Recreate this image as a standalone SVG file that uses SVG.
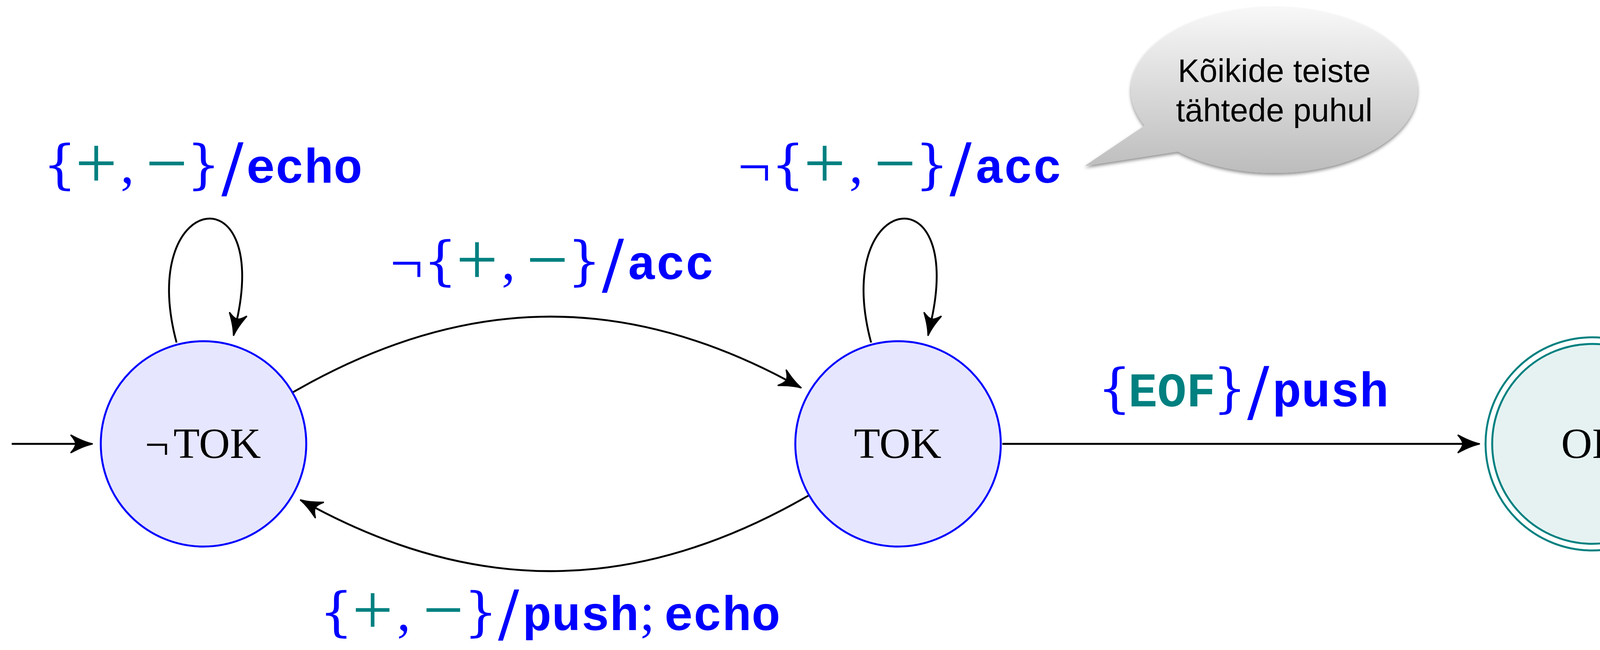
<svg xmlns="http://www.w3.org/2000/svg" width="4333" height="1665" viewBox="0 0 4333 1665">
<defs>
<style>
.edge{fill:none;stroke:#000;stroke-width:4.8;marker-end:url(#arr);}
.state{fill:#E6E6FF;stroke:#0000FF;stroke-width:5;}
.accin{fill:#E6F2F2;stroke:#008080;stroke-width:5;}
.accout{fill:#FFFFFF;stroke:#008080;stroke-width:5;}
.nl{font-family:"Liberation Serif","DejaVu Serif",serif;font-size:110px;fill:#000;text-anchor:middle;}
.lbl{text-anchor:middle;}
.br{font-family:"DejaVu Serif",serif;font-size:135px;}
.rm{font-family:"Liberation Serif",serif;font-size:190px;}
.rm2{font-family:"Liberation Serif",serif;font-size:185px;}
.cm{font-family:"Liberation Serif",serif;font-size:140px;}
.sl{font-family:"DejaVu Serif",serif;font-size:168px;}
.sl2{font-family:"DejaVu Serif",serif;font-size:160px;}
.ng{font-family:"Liberation Serif",serif;font-size:150px;}
.tt{font-family:"Liberation Mono","DejaVu Sans Mono",monospace;font-weight:bold;font-size:124px;}
.b{fill:#0000FF;}
.t{fill:#008080;}
.co{font-family:"Liberation Sans",Arial,sans-serif;font-size:83px;fill:#000;text-anchor:middle;}
</style>
<marker id="arr" viewBox="-70 -35 80 70" markerWidth="80" markerHeight="70" refX="-41" refY="0" orient="auto" markerUnits="userSpaceOnUse">
<path d="M0,0 C-14,-3 -33,-10.5 -54,-22 C-46,-13 -42,-6 -42,0 C-42,6 -46,13 -54,22 C-33,10.5 -14,3 0,0 Z" fill="#000" stroke="#000" stroke-width="4" stroke-linejoin="round"/>
</marker>
<linearGradient id="bub" gradientUnits="userSpaceOnUse" x1="0" y1="18" x2="0" y2="444">
<stop offset="0" stop-color="#F8F8F8"/>
<stop offset="1" stop-color="#BCBCBC"/>
</linearGradient>
<filter id="sh" x="-10%" y="-10%" width="120%" height="130%">
<feDropShadow dx="0" dy="5" stdDeviation="4" flood-color="#000" flood-opacity="0.45"/>
</filter>
</defs>

<g id="edges">
<path id="e-init" class="edge" d="M30,1137 L195,1137"/>
<path id="e-loop-notok" class="edge" d="M452,877.5 C349.8,496.2 690,436 606.7,818.6"/>
<path id="e-loop-tok" class="edge" d="M2230,877.5 C2127.8,496.2 2468,436 2384.7,818.6"/>
<path id="e-notok-tok" class="edge" d="M750.5,1004.5 C1179,757.2 1587.3,746.9 2014.2,973.8"/>
<path id="e-tok-notok" class="edge" d="M2069.5,1269.5 C1641,1516.8 1232.7,1527.1 805.8,1300.2"/>
<path id="e-tok-ok" class="edge" d="M2566,1137 L3746,1137"/>
</g>

<g id="edge-labels">
<text id="l-loop-notok" class="lbl">
<tspan class="br b" x="153" y="468">{</tspan><tspan class="rm t" x="246.4" y="482">+</tspan><tspan class="cm b" x="326" y="468">,</tspan><tspan class="rm t" x="426.6" y="482">−</tspan><tspan class="br b" x="521" y="468">}</tspan><tspan class="sl b" x="595" y="487">/</tspan><tspan class="tt b" x="779" y="468">echo</tspan>
</text>
<text id="l-notok-tok" class="lbl">
<tspan class="ng b" x="1041" y="724">¬</tspan><tspan class="br b" x="1127" y="715">{</tspan><tspan class="rm t" x="1221" y="729">+</tspan><tspan class="cm b" x="1301.6" y="715">,</tspan><tspan class="rm t" x="1401" y="729">−</tspan><tspan class="br b" x="1495.7" y="715">}</tspan><tspan class="sl b" x="1569" y="734">/</tspan><tspan class="tt b" x="1717" y="715">acc</tspan>
</text>
<text id="l-loop-tok" class="lbl">
<tspan class="ng b" x="1931" y="477">¬</tspan><tspan class="br b" x="2017" y="468">{</tspan><tspan class="rm t" x="2111" y="482">+</tspan><tspan class="cm b" x="2191.6" y="468">,</tspan><tspan class="rm t" x="2291" y="482">−</tspan><tspan class="br b" x="2385.7" y="468">}</tspan><tspan class="sl b" x="2459" y="487">/</tspan><tspan class="tt b" x="2607" y="468">acc</tspan>
</text>
<text id="l-tok-ok" class="lbl">
<tspan class="br b" x="2853" y="1041">{</tspan><tspan class="tt t" x="3000" y="1041">EOF</tspan><tspan class="br b" x="3148" y="1041">}</tspan><tspan class="sl b" x="3221" y="1060">/</tspan><tspan class="tt b" x="3406" y="1041">push</tspan>
</text>
<text id="l-tok-notok" class="lbl">
<tspan class="br b" x="860.7" y="1614">{</tspan><tspan class="rm2 t" x="954" y="1624">+</tspan><tspan class="cm b" x="1033.7" y="1614">,</tspan><tspan class="rm2 t" x="1135" y="1624">−</tspan><tspan class="br b" x="1230.6" y="1614">}</tspan><tspan class="sl2 b" x="1302" y="1626">/</tspan><tspan class="tt b" x="1486.7" y="1614">push</tspan><tspan class="cm b" x="1657" y="1614">;</tspan><tspan class="tt b" x="1849" y="1614">echo</tspan>
</text>
</g>

<g id="node-notok">
<circle class="state" cx="521" cy="1137" r="263"/>
<text class="nl"><tspan x="402" y="1176">¬</tspan><tspan x="556" y="1173">TOK</tspan></text>
</g>
<g id="node-tok">
<circle class="state" cx="2299" cy="1137" r="263"/>
<text class="nl" x="2298" y="1173">TOK</text>
</g>
<g id="node-ok">
<circle class="accout" cx="4076" cy="1137" r="273"/>
<circle class="accin" cx="4076" cy="1137" r="256"/>
<text class="nl" x="4076" y="1173">OK</text>
</g>

<g id="callout">
<g filter="url(#sh)">
<polygon points="2961,301 2777,425 3061,381" fill="url(#bub)"/>
<ellipse cx="3262" cy="231" rx="367" ry="212" fill="url(#bub)"/>
</g>
<text class="co"><tspan x="3262" y="210">Kõikide teiste</tspan><tspan x="3262" y="311">tähtede puhul</tspan></text>
</g>
</svg>
